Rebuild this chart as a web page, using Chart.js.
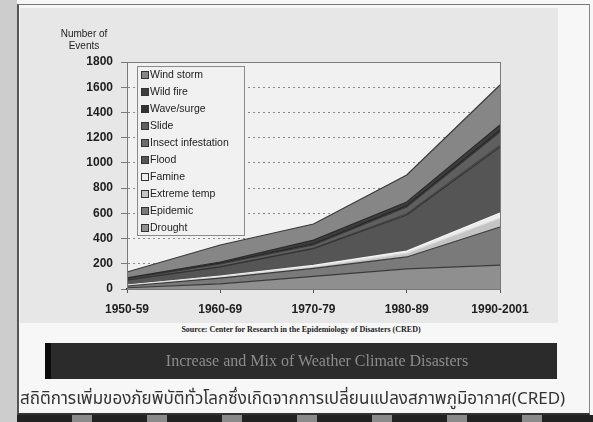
<!DOCTYPE html>
<html lang="th">
<head>
  <meta charset="UTF-8" />
  <title>Increase and Mix of Weather Climate Disasters</title>
  <style>
    html, body {
      margin: 0;
      padding: 0;
      width: 593px;
      height: 422px;
      overflow: hidden;
      background: #f7f7f7;
      font-family: Arial, "Liberation Sans", sans-serif;
    }
    #page {
      position: relative;
      width: 593px;
      height: 422px;
    }
    #leftStrip {
      position: absolute; left: 0; top: 0; width: 17px; height: 422px;
      background: #cdcdcd;
    }
    #frame {
      position: absolute; left: 17px; top: 4px; width: 570px; height: 408px;
      border-left: 2px solid #555;
      border-top: 1px solid #777;
      border-right: 1px solid #888;
      border-bottom: 2px solid #333;
    }
    #bottomBand {
      position: absolute; left: 17px; top: 415px; width: 576px; height: 7px;
      background: repeating-linear-gradient(90deg, #222 0 55px, #8a8a8a 55px 75px);
    }
    #chartBg {
      position: absolute; left: 20px; top: 8px; width: 538px; height: 315px;
      background: #e7e7e7;
    }
    #chartWrap {
      position: absolute; left: 20px; top: 8px; width: 538px; height: 315px;
    }
    #yTitle {
      position: absolute; left: 54px; top: 28px; width: 60px;
      font-size: 10px; line-height: 12px; color: #222; text-align: center;
    }
    #source {
      position: absolute; left: 45px; top: 325px; width: 512px;
      font-family: "Liberation Serif", "DejaVu Serif", serif;
      font-size: 8px; font-weight: bold; color: #222; text-align: center;
    }
    #banner {
      position: absolute; left: 45px; top: 343px; width: 506px; height: 36px;
      background: #2b2b2b; border-left: 6px solid #0c0c0c;
      font-family: "Liberation Serif", "DejaVu Serif", serif;
      font-size: 16px; line-height: 36px; color: #8c8c8c; text-align: center;
      text-indent: 26px;
    }
    #thai {
      position: absolute; left: 20px; top: 386px; width: 560px;
      font-family: "Noto Sans Thai", "Loma", "Garuda", "Tlwg Typo", "DejaVu Sans", sans-serif;
      font-size: 17px; color: #333; white-space: nowrap;
    }
  </style>
</head>
<body>
  <div id="page">
    <div id="leftStrip"></div>
    <div id="chartBg"></div>
    <div id="chartWrap"><canvas id="disasterChart" width="538" height="315"></canvas></div>
    <div id="yTitle">Number of<br>Events</div>
    <div id="source">Source: Center for Research in the Epidemiology of Disasters (CRED)</div>
    <div id="banner">Increase and Mix of Weather Climate Disasters</div>
    <div id="thai">สถิติการเพิ่มของภัยพิบัติทั่วโลกซึ่งเกิดจากการเปลี่ยนแปลงสภาพภูมิอากาศ(CRED)</div>
    <div id="frame"></div>
    <div id="bottomBand"></div>
  </div>

  <script src="https://cdn.jsdelivr.net/npm/chart.js"></script>
  <script>
    // decades on the x axis
    const categories = ['1950-59', '1960-69', '1970-79', '1980-89', '1990-2001'];

    // number of events per type (stacked, bottom to top)
    const drought     = [10, 40, 100, 159, 190];
    const epidemic    = [14, 47, 63, 95, 302];
    const extremeTemp = [5, 10, 14, 31, 71];
    const famine      = [2, 5, 10, 15, 40];
    const flood       = [40, 73, 133, 287, 523];
    const insect      = [1, 3, 5, 10, 14];
    const slide       = [8, 20, 25, 53, 105];
    const waveSurge   = [3, 5, 8, 10, 15];
    const wildFire    = [5, 11, 30, 30, 40];
    const windStorm   = [47, 135, 127, 214, 318];

    const seriesNames = ['Drought', 'Epidemic', 'Extreme temp', 'Famine', 'Flood',
      'Insect infestation', 'Slide', 'Wave/surge', 'Wild fire', 'Wind storm'];
    const seriesData = [drought, epidemic, extremeTemp, famine, flood,
      insect, slide, waveSurge, wildFire, windStorm];

    const yTicks = [0, 200, 400, 600, 800, 1000, 1200, 1400, 1600, 1800];

    const fills   = ['#8f8f8f', '#7a7a7a', '#c4c4c4', '#ececec', '#555555',
      '#6c6c6c', '#5f5f5f', '#333333', '#3d3d3d', '#868686'];
    const borders = ['#3a3a3a', '#3a3a3a', '#dddddd', '#f4f4f4', '#333333',
      '#444444', '#3a3a3a', '#222222', '#2a2a2a', '#3a3a3a'];

    // plot background + frame
    const plotBox = {
      id: 'plotBox',
      beforeDraw(chart) {
        const { ctx, chartArea: a } = chart;
        ctx.save();
        ctx.fillStyle = '#f1f1f1';
        ctx.fillRect(a.left, a.top, a.right - a.left, a.bottom - a.top);
        ctx.restore();
      },
      afterDatasetsDraw(chart) {
        const { ctx, chartArea: a } = chart;
        ctx.save();
        ctx.strokeStyle = '#7a7a7a';
        ctx.lineWidth = 1;
        ctx.strokeRect(a.left + 0.5, a.top + 0.5, a.right - a.left, a.bottom - a.top);
        ctx.restore();
      }
    };

    // legend drawn inside the plot, top entry = top series
    const insideLegend = {
      id: 'insideLegend',
      afterDraw(chart) {
        const { ctx, chartArea: a } = chart;
        const x = a.left + 10, y = a.top + 4, w = 107, h = 169;
        ctx.save();
        ctx.fillStyle = '#f1f1f1';
        ctx.fillRect(x, y, w, h);
        ctx.strokeStyle = '#8a8a8a';
        ctx.lineWidth = 1;
        ctx.strokeRect(x + 0.5, y + 0.5, w, h);
        ctx.font = '10.5px Arial, "Liberation Sans", sans-serif';
        ctx.textBaseline = 'middle';
        const ds = chart.data.datasets.slice().reverse();
        ds.forEach((d, i) => {
          const cy = y + 9 + i * 17;
          ctx.fillStyle = '#333';
          ctx.fillRect(x + 4, cy - 4, 8, 8);
          ctx.fillStyle = d.backgroundColor;
          ctx.fillRect(x + 5, cy - 3, 6, 6);
          ctx.fillStyle = '#222';
          ctx.fillText(d.label, x + 13, cy);
        });
        ctx.restore();
      }
    };

    new Chart(document.getElementById('disasterChart'), {
      type: 'line',
      data: {
        labels: categories,
        datasets: seriesData.map((vals, i) => ({
          label: seriesNames[i],
          data: vals,
          backgroundColor: fills[i],
          borderColor: borders[i],
          borderWidth: 1.2,
          fill: i === 0 ? 'origin' : '-1',
          pointRadius: 0,
          tension: 0
        }))
      },
      options: {
        responsive: false,
        animation: false,
        layout: { padding: { top: 54, right: 58, left: 0, bottom: 0 } },
        plugins: {
          legend: { display: false },
          tooltip: { enabled: false }
        },
        scales: {
          x: {
            offset: false,
            afterFit(scale) { scale.height = 34; },
            grid: { display: true, drawOnChartArea: false, tickLength: 4, color: '#555' },
            border: { display: true, color: '#222', width: 1.5 },
            ticks: {
              color: '#1e1e1e',
              padding: 9,
              maxRotation: 0,
              font: { family: 'Arial, "Liberation Sans", sans-serif', size: 12, weight: 'bold' }
            }
          },
          y: {
            stacked: true,
            min: 0,
            max: 1800,
            afterFit(scale) { scale.width = 107; },
            afterBuildTicks(scale) { scale.ticks = yTicks.map(v => ({ value: v })); },
            grid: {
              color: (c) => c.tick && c.tick.value === 0 ? 'rgba(0,0,0,0)' : '#8a8a8a',
              tickColor: '#777',
              tickLength: 6,
              lineWidth: 1
            },
            border: { display: true, color: '#333', width: 1, dash: [2, 3] },
            ticks: {
              color: '#1e1e1e',
              padding: 8,
              callback: (v) => String(v),
              font: { family: 'Arial, "Liberation Sans", sans-serif', size: 12, weight: 'bold' }
            }
          }
        }
      },
      plugins: [plotBox, insideLegend]
    });
  </script>
</body>
</html>
